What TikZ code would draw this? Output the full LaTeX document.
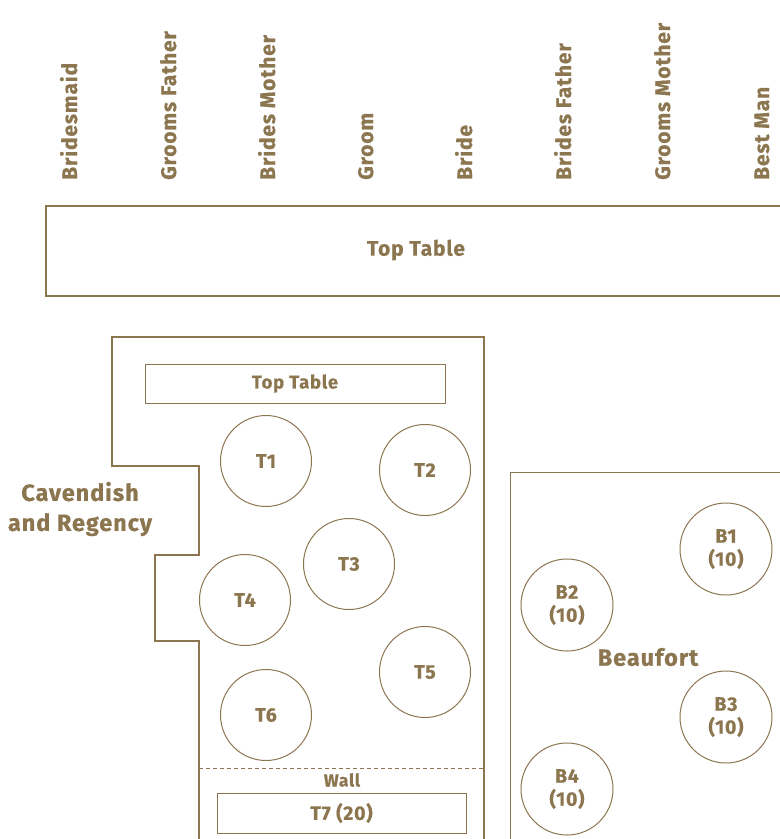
\documentclass[tikz,border=0pt]{standalone}
\usepackage{fontspec}
\setmainfont{Fira Sans}[LetterSpace=4, BoldFeatures={FakeBold=0.6}]
\definecolor{brn}{RGB}{140,118,80}
\tikzset{
  wall/.style={draw=brn, line width=1.5pt},
  tbl/.style={draw=brn, line width=1pt},
  rnd/.style={circle, draw=brn, line width=1pt, minimum size=91pt, inner sep=0pt, text=brn, font=\bfseries\fontsize{19.5}{23}\selectfont, align=center},
  seat/.style={rotate=90, anchor=base west, text=brn, font=\bfseries\fontsize{21}{24}\selectfont, inner sep=0pt},
  lbl/.style={text=brn, font=\bfseries\fontsize{19.5}{22}\selectfont, align=center, inner sep=0pt},
  room/.style={text=brn, font=\bfseries\fontsize{23.5}{30}\selectfont, align=center, inner sep=0pt}
}
\begin{document}
\begin{tikzpicture}[x=1pt,y=-1pt]
\useasboundingbox (0,0) rectangle (780,839);
% seat labels
\node[seat] (s1) at (77,180) {Bridesmaid};
\node[seat] (s2) at (176,180) {Grooms Father};
\node[seat] (s3) at (275,180) {Brides Mother};
\node[seat] (s4) at (373,180) {Groom};
\node[seat] (s5) at (472,180) {Bride};
\node[seat] (s6) at (571,180) {Brides Father};
\node[seat] (s7) at (670,180) {Grooms Mother};
\node[seat] (s8) at (769,180) {Best Man};
% big top table
\draw[wall] (790,206) -- (46,206) -- (46,296) -- (790,296);
\node[lbl, font=\bfseries\fontsize{21}{24}\selectfont] (tt) at (416,250) {Top Table};
% Cavendish outline
\draw[wall] (199,850) -- (199,641) -- (155,641) -- (155,555) -- (199,555) -- (199,466) -- (112,466) -- (112,337) -- (484,337) -- (484,850);
\draw[brn, line width=1pt, dash pattern=on 4pt off 3pt] (199,768) -- (484,768);
\node[room] (cav) at (80,509) {Cavendish\\and Regency};
% inner top table
\node[tbl, minimum width=300pt, minimum height=39pt, inner sep=0pt, text=brn, font=\bfseries\fontsize{18.5}{22}\selectfont] (itt) at (295,383.5) {Top Table};
% round tables
\node[rnd] (t1) at (266,461) {T1};
\node[rnd] (t2) at (425,470) {T2};
\node[rnd] (t3) at (349,564) {T3};
\node[rnd] (t4) at (245,600) {T4};
\node[rnd] (t5) at (425,672) {T5};
\node[rnd] (t6) at (266,715) {T6};
\node[lbl, font=\bfseries\fontsize{17.5}{20}\selectfont] (wl) at (342,780) {Wall};
\node[tbl, minimum width=249pt, minimum height=40pt, inner sep=0pt, text=brn, font=\bfseries\fontsize{19.5}{22}\selectfont] (t7) at (341.5,813) {T7 (20)};
% Beaufort
\draw[tbl] (510,850) -- (510,472) -- (790,472);
\node[room] (bf) at (648,657) {Beaufort};
\node[rnd, minimum size=92pt] (b1) at (726,549) {B1\\(10)};
\node[rnd, minimum size=92pt] (b2) at (567,605) {B2\\(10)};
\node[rnd, minimum size=92pt] (b3) at (726,717) {B3\\(10)};
\node[rnd, minimum size=92pt] (b4) at (567,789) {B4\\(10)};
\end{tikzpicture}
\end{document}
